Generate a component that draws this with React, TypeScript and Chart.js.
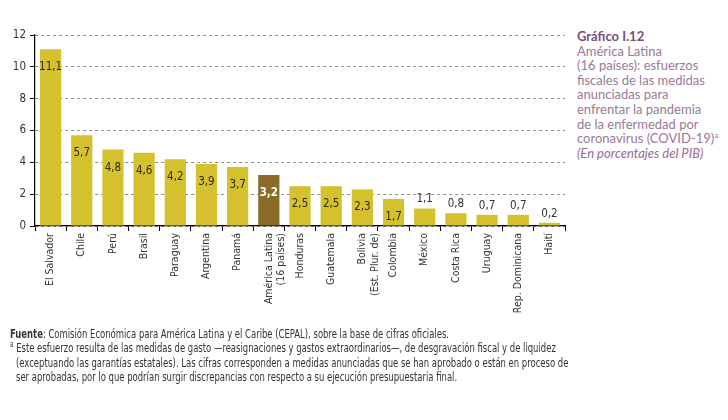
import React, { useEffect, useLayoutEffect, useRef } from "react";
import { Chart, registerables } from "chart.js";

Chart.register(...registerables);

const categories: (string | string[])[] = [
  "El Salvador", "Chile", "Perú", "Brasil", "Paraguay", "Argentina", "Panamá",
  ["América Latina", "(16 países)"], "Honduras", "Guatemala", ["Bolivia", "(Est. Plur. de)"],
  "Colombia", "México", "Costa Rica", "Uruguay", "Rep. Dominicana", "Haití",
];
const values = [11.1, 5.7, 4.8, 4.6, 4.2, 3.9, 3.7, 3.2, 2.5, 2.5, 2.3, 1.7, 1.1, 0.8, 0.7, 0.7, 0.2];
const highlightIndex = 7;
const yTicks = [0, 2, 4, 6, 8, 10, 12];

const titleLines = [
  "América Latina",
  "(16 países): esfuerzos",
  "fiscales de las medidas",
  "anunciadas para",
  "enfrentar la pandemia",
  "de la enfermedad por",
];
const footerSource = ": Comisión Económica para América Latina y el Caribe (CEPAL), sobre la base de cifras oficiales.";
const footnoteLines = [
  "Este esfuerzo resulta de las medidas de gasto —reasignaciones y gastos extraordinarios—, de desgravación fiscal y de liquidez",
  "(exceptuando las garantías estatales). Las cifras corresponden a medidas anunciadas que se han aprobado o están en proceso de",
  "ser aprobadas, por lo que podrían surgir discrepancias con respecto a su ejecución presupuestaria final.",
];

const YELLOW = "#D5C12E";
const DARK = "#8B6B28";
const NARROW = "'Liberation Sans Narrow', 'DejaVu Sans Condensed', 'Roboto', sans-serif";

const labelPlugin = {
  id: "barLabels",
  afterDatasetsDraw(chart: any) {
    const ctx = chart.ctx;
    const meta = chart.getDatasetMeta(0);
    meta.data.forEach((bar: any, i: number) => {
      const v = values[i];
      const txt = v.toFixed(1).replace(".", ",");
      ctx.save();
      ctx.textAlign = "center";
      ctx.textBaseline = "middle";
      if (i === highlightIndex) {
        ctx.font = `bold 11.5px ${NARROW}`;
        ctx.fillStyle = "#ffffff";
        ctx.fillText(txt, bar.x, bar.y + 18);
      } else if (v >= 1.5) {
        ctx.font = `11.5px ${NARROW}`;
        ctx.fillStyle = "#2e2c14";
        ctx.fillText(txt, bar.x, bar.y + 18);
      } else {
        ctx.font = `11.5px ${NARROW}`;
        ctx.fillStyle = "#333333";
        ctx.fillText(txt, bar.x, bar.y - 9);
      }
      ctx.restore();
    });
  },
};

export default function App() {
  const ref = useRef<HTMLCanvasElement | null>(null);
  const footRef = useRef<HTMLDivElement | null>(null);

  useLayoutEffect(() => {
    const el = footRef.current;
    if (!el) return;
    const lines = Array.from(el.querySelectorAll<HTMLElement>("[data-line]"));
    const first = lines[0];
    if (!first) return;
    const w = first.getBoundingClientRect().width;
    const s = w > 0 ? 439 / w : 1;
    lines.forEach((l) => {
      l.style.transform = `scaleX(${s})`;
    });
  }, []);

  useEffect(() => {
    if (!ref.current) return;
    const chart = new Chart(ref.current, {
      type: "bar",
      data: {
        labels: categories,
        datasets: [
          {
            data: values,
            backgroundColor: values.map((_, i) => (i === highlightIndex ? DARK : YELLOW)),
            categoryPercentage: 1,
            barPercentage: 0.68,
          },
        ],
      },
      options: {
        responsive: false,
        animation: false,
        layout: { padding: { top: 35, right: 10, left: 0, bottom: 0 } },
        plugins: { legend: { display: false }, tooltip: { enabled: false } },
        scales: {
          x: {
            grid: {
              offset: true,
              drawOnChartArea: false,
              drawTicks: true,
              tickLength: 5,
              tickColor: "#000",
            },
            border: { color: "#000", width: 1.2 },
            ticks: {
              autoSkip: false,
              maxRotation: 90,
              minRotation: 90,
              padding: 2,
              color: "#333",
              font: { family: NARROW, size: 10.5 },
            },
            afterFit(scale: any) {
              scale.height = 104;
            },
          },
          y: {
            min: 0,
            max: 12,
            afterBuildTicks(scale: any) {
              scale.ticks = yTicks.map((v) => ({ value: v }));
            },
            grid: {
              color: "#8a8a8a",
              lineWidth: 1,
              drawTicks: true,
              tickLength: 5,
              tickColor: "#000",
            },
            border: { color: "#000", width: 1.2, dash: [3, 3] },
            ticks: {
              padding: 4,
              color: "#333",
              font: { family: NARROW, size: 11.5 },
            },
            afterFit(scale: any) {
              scale.width = 35;
            },
          },
        },
      },
      plugins: [labelPlugin],
    });
    return () => chart.destroy();
  }, []);

  const titleColor = "#9a7a98";
  const lineStyle: React.CSSProperties = {
    display: "inline-block",
    whiteSpace: "nowrap",
    transformOrigin: "0 0",
  };
  return (
    <div style={{ position: "absolute", left: 0, top: 0, width: 728, height: 420, background: "#fff", overflow: "hidden" }}>
      <canvas ref={ref} width={575} height={330} style={{ position: "absolute", left: 0, top: 0 }} />
      <div
        style={{
          position: "absolute",
          left: 577,
          top: 29,
          width: 150,
          fontFamily: "Lato, 'Open Sans', sans-serif",
          fontSize: 13,
          lineHeight: "14.6px",
          color: titleColor,
        }}
      >
        <div style={{ fontWeight: 700, color: "#7c4d7b" }}>Gráfico I.12</div>
        {titleLines.map((t) => (
          <div key={t}>{t}</div>
        ))}
        <div>
          coronavirus (COVID-19)<sup style={{ fontSize: 8, lineHeight: 0 }}>a</sup>
        </div>
        <div style={{ fontStyle: "italic", color: "#9a6a98" }}>(En porcentajes del PIB)</div>
      </div>
      <div
        ref={footRef}
        style={{
          position: "absolute",
          left: 10,
          top: 327,
          width: 700,
          fontFamily: NARROW,
          fontSize: 12,
          lineHeight: "14.3px",
          color: "#333",
        }}
      >
        <div style={{ height: 14.3 }}>
          <span data-line="1" style={lineStyle}>
            <b>Fuente</b>
            {footerSource}
          </span>
        </div>
        <div style={{ height: 14.3 }}>
          <span data-line="2" style={lineStyle}>
            <sup style={{ fontSize: 8, lineHeight: 0 }}>a</sup> {footnoteLines[0]}
          </span>
        </div>
        <div style={{ height: 14.3, paddingLeft: 6 }}>
          <span data-line="3" style={lineStyle}>{footnoteLines[1]}</span>
        </div>
        <div style={{ height: 14.3, paddingLeft: 6 }}>
          <span data-line="4" style={lineStyle}>{footnoteLines[2]}</span>
        </div>
      </div>
    </div>
  );
}
